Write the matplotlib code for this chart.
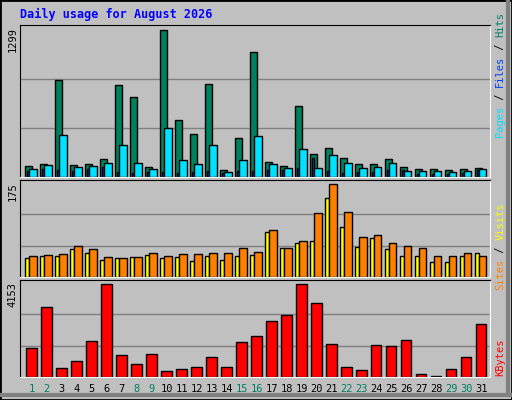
import matplotlib
matplotlib.use('Agg')
import matplotlib.pyplot as plt
import numpy as np

days = list(range(1, 32))
weekend = [1, 2, 8, 9, 15, 16, 22, 23, 29, 30]

hits = [100, 118, 858, 109, 118, 162, 814, 709, 91, 1299, 506, 382, 823, 65, 347, 1105,
        135, 100, 629, 206, 259, 171, 118, 118, 162, 91, 74, 74, 65, 74, 82]
files = [74, 109, 373, 91, 100, 126, 285, 126, 74, 435, 153, 118, 285, 47, 153, 365,
         118, 82, 250, 82, 197, 126, 82, 91, 126, 56, 56, 56, 47, 56, 74]
pages = [56, 74, 65, 56, 74, 91, 47, 38, 47, 47, 38, 47, 56, 38, 56, 56,
         65, 65, 82, 171, 56, 38, 47, 47, 65, 65, 29, 29, 29, 38, 65]
sites = [35, 39, 39, 52, 46, 33, 35, 37, 42, 35, 37, 31, 39, 33, 40, 42,
         84, 54, 65, 67, 149, 94, 56, 73, 52, 39, 39, 29, 29, 39, 46]
visits = [39, 42, 44, 59, 52, 37, 35, 37, 46, 40, 44, 44, 46, 46, 54, 48,
          88, 54, 67, 120, 175, 122, 76, 80, 65, 58, 54, 39, 39, 46, 40]
kbytes = [1289, 3153, 409, 697, 1607, 4153, 970, 561, 1016, 288, 379, 470, 879, 470, 1561, 1834,
          2516, 2789, 4153, 3335, 1470, 470, 333, 1425, 1380, 1652, 152, 61, 379, 879, 2380]

BG = '#C0C0C0'
mono = 'DejaVu Sans Mono'
x = np.array(days)

fig = plt.figure(figsize=(5.12, 4.0), dpi=100, facecolor=BG)
# bevelled outer frame
fig.add_artist(plt.Rectangle((0, 0), 1, 1, transform=fig.transFigure, fill=False, edgecolor='black', lw=2))
fig.add_artist(plt.Line2D([0.004, 0.996], [0.012, 0.012], transform=fig.transFigure, color='#808080', lw=3))
fig.add_artist(plt.Line2D([0.992, 0.992], [0.012, 0.995], transform=fig.transFigure, color='#808080', lw=3))
fig.text(0.039, 0.963, 'Daily usage for August 2026', color='#0000FF', fontsize=8.5,
         fontweight='bold', family=mono, va='center')

def panel(bottom, height, ymax, label):
    ax = fig.add_axes([0.039, bottom, 0.919, height], facecolor=BG)
    ax.set_xlim(0.167, 31.55)
    ax.set_ylim(0, ymax)
    ax.set_xticks([])
    ax.set_yticks([])
    for s in ['top', 'left']:
        ax.spines[s].set_color('black')
    for s in ['bottom', 'right']:
        ax.spines[s].set_color('white')
    for f in (1 / 3, 2 / 3):
        ax.axhline(f * ymax * 0.97, color='#808080', lw=1, zorder=0)
    fig.text(0.025, bottom + height - 0.005, label, rotation=90, fontsize=7.5,
             family=mono, ha='center', va='top')
    return ax

kw = dict(align='edge', edgecolor='black', linewidth=1)

ax1 = panel(0.5575, 0.38, 1340, '1299')
ax1.bar(x - 0.5, hits, width=0.47, color='#00805C', **kw)
ax1.bar(x - 0.35, pages, width=0.13, color='#0040FF', **kw)
ax1.bar(x - 0.21, files, width=0.49, color='#00E0FF', **kw)

ax2 = panel(0.3075, 0.2425, 183, '175')
ax2.bar(x - 0.5, sites, width=0.29, color='#FFFF00', **kw)
ax2.bar(x - 0.23, visits, width=0.51, color='#FF8000', **kw)

ax3 = panel(0.0575, 0.2425, 4348, '4153')
ax3.bar(x - 0.43, kbytes, width=0.71, color='#FF0000', **kw)

for d in days:
    ax3.text(d - 0.05, -0.07, str(d), transform=ax3.get_xaxis_transform(), ha='center', va='top',
             fontsize=7.5, family=mono, color='#00805C' if d in weekend else 'black')

renderer = fig.canvas.get_renderer()

def side(y0, parts):
    # stack the coloured pieces upward, measuring each one
    y = y0
    for txt, col in parts:
        t = fig.text(0.977, y, txt, rotation=90, color=col, fontsize=7.5, family=mono,
                     ha='center', va='bottom')
        y += t.get_window_extent(renderer).height / 400

side(0.6575, [('Pages', '#00E0FF'), (' / ', 'black'), ('Files', '#0040FF'), (' / ', 'black'), ('Hits', '#00805C')])
side(0.275, [('Sites', '#FF8000'), (' / ', 'black'), ('Visits', '#FFFF00')])
side(0.06, [('KBytes', '#FF0000')])

fig.savefig('out.png', dpi=100, facecolor=BG)
